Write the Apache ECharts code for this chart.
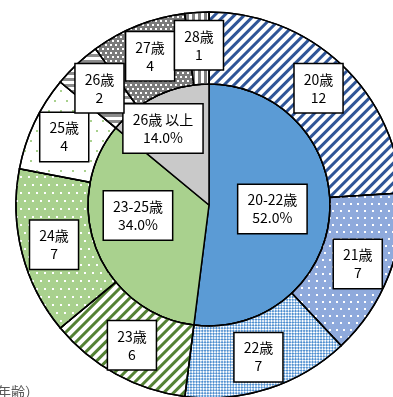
<!DOCTYPE html>
<html>
<head>
<meta charset="utf-8">
<script src="https://cdn.jsdelivr.net/npm/echarts@6/dist/echarts.min.js"></script>
<style>
  html, body { margin: 0; padding: 0; background: #fff; }
  #chart { width: 393px; height: 397px; }
</style>
</head>
<body>
<div id="chart"></div>
<script>
// 年齢別の人数（外側）と年齢層の割合（内側）
const ageLabels = ['20歳', '21歳', '22歳', '23歳', '24歳', '25歳', '26歳', '27歳', '28歳']
const ageCounts = [12, 7, 7, 6, 7, 4, 2, 4, 1]
const groupLabels = ['20-22歳', '23-25歳', '26歳 以上']
const groupShares = [52.0, 34.0, 14.0]

// 塗り色と模様
const groupColors = ['#5B9BD5', '#A9D18E', '#C9C9C9']
const ageStyles = [
  { color: '#ffffff', decal: { symbol: 'rect', color: '#2F5597', dashArrayX: [1, 0], dashArrayY: [3, 4], rotation: -Math.PI / 4 } },
  { color: '#8FAADC', decal: { symbol: 'rect', color: '#ffffff', dashArrayX: [[2, 5], [0, 3.5, 2, 1.5]], dashArrayY: [2, 5], symbolSize: 1 } },
  { color: '#ffffff', decal: { symbol: 'rect', color: '#4F8FD0', dashArrayX: [[2, 2], [0, 2, 2, 0]], dashArrayY: [2, 0], rotation: Math.PI / 4, symbolSize: 1 } },
  { color: '#ffffff', decal: { symbol: 'rect', color: '#548235', dashArrayX: [1, 0], dashArrayY: [3, 4], rotation: -Math.PI / 4 } },
  { color: '#A9D18E', decal: { symbol: 'rect', color: '#ffffff', dashArrayX: [[2, 6], [0, 4, 2, 2]], dashArrayY: [2, 6], symbolSize: 1 } },
  { color: '#ffffff', decal: { symbol: 'rect', color: '#A9D18E', dashArrayX: [[2, 10], [0, 6, 2, 4]], dashArrayY: [2, 8], symbolSize: 1 } },
  { color: '#ffffff', decal: { symbol: 'rect', color: '#8C8C8C', dashArrayX: [1, 0], dashArrayY: [3, 3] } },
  { color: '#7A7A7A', decal: { symbol: 'rect', color: '#ffffff', dashArrayX: [[1.5, 2.5], [0, 2, 1.5, 0.5]], dashArrayY: [1.5, 2], symbolSize: 1 } },
  { color: '#ffffff', decal: { symbol: 'rect', color: '#808080', dashArrayX: [2.5, 2.5], dashArrayY: [1, 0] } }
]
// 内側ラベルの手動ずらし
const groupLabelShift = [[0, 0], [-12, -13], [-19, -19]]

const boxLabel = {
  show: true,
  position: 'inside',
  color: '#000',
  fontFamily: '"Noto Sans CJK JP", sans-serif',
  fontSize: 14,
  lineHeight: 18,
  backgroundColor: '#fff',
  borderColor: '#000',
  borderWidth: 1.5,
  padding: [6, 9]
}

const chart = echarts.init(document.getElementById('chart'), null, { renderer: 'canvas' })

chart.setOption({
  animation: false,
  backgroundColor: '#fff',
  graphic: [{
    type: 'text',
    left: -17,
    top: 385,
    style: { text: '（年齢）', fontSize: 14, fill: '#595959', fontFamily: '"Noto Sans CJK JP", sans-serif' }
  }],
  series: [
    {
      type: 'pie',
      center: [209, 205],
      radius: [0, 121],
      startAngle: 90,
      clockwise: true,
      avoidLabelOverlap: false,
      silent: true,
      itemStyle: { borderColor: '#000', borderWidth: 1.5 },
      label: { ...boxLabel, formatter: p => p.name + '\n' + p.value.toFixed(1) + '%' },
      labelLine: { show: false },
      labelLayout: p => ({ dx: groupLabelShift[p.dataIndex][0], dy: groupLabelShift[p.dataIndex][1], hideOverlap: false }),
      data: groupLabels.map((name, i) => ({
        name,
        value: groupShares[i],
        itemStyle: { color: groupColors[i] }
      }))
    },
    {
      type: 'pie',
      center: [209, 205],
      radius: [121, 193],
      startAngle: 90,
      clockwise: true,
      avoidLabelOverlap: false,
      minShowLabelAngle: 0,
      silent: true,
      itemStyle: { borderColor: '#000', borderWidth: 1.5 },
      label: { ...boxLabel, formatter: '{b}\n{c}' },
      labelLine: { show: false },
      labelLayout: { hideOverlap: false },
      data: ageLabels.map((name, i) => ({
        name,
        value: ageCounts[i],
        itemStyle: { color: ageStyles[i].color, decal: ageStyles[i].decal }
      }))
    }
  ]
})
</script>
</body>
</html>
